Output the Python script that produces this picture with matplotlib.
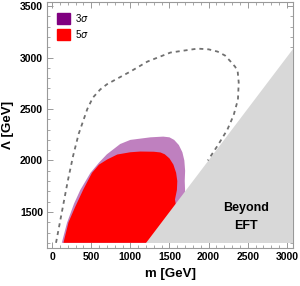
import matplotlib
matplotlib.use('Agg')
import matplotlib.pyplot as plt
from matplotlib.patches import Patch
from matplotlib.ticker import MultipleLocator

plt.rcParams['font.family'] = ['Liberation Sans', 'DejaVu Sans']

# contour of 5 sigma region (m, Lambda) in GeV
m_5sig = [145, 210, 295, 400, 510, 600, 705, 833, 1000, 1128, 1300, 1385,
          1440, 1500, 1550, 1585, 1600, 1595, 1570, 1600, 1620, 1620]
lam_5sig = [1200, 1400, 1549, 1720, 1880, 1960, 2010, 2058, 2080, 2087, 2085, 2078,
            2060, 2020, 1960, 1880, 1800, 1713, 1620, 1500, 1350, 1200]

# contour of 3 sigma region
m_3sig = [124, 190, 280, 360, 490, 600, 700, 870, 1000, 1256, 1420, 1500,
          1560, 1620, 1665, 1690, 1700, 1695, 1700, 1700]
lam_3sig = [1200, 1393, 1580, 1713, 1880, 1980, 2060, 2160, 2200, 2225, 2232, 2225,
            2200, 2150, 2080, 2000, 1900, 1800, 1700, 1200]

# dashed contour
m_dash = [50, 125, 200, 270, 340, 450, 520, 615, 700, 810, 1000, 1218, 1513,
          1859, 2000, 2115, 2210, 2282, 2340, 2372, 2385, 2375, 2320, 2240, 2120, 1990]
lam_dash = [1200, 1500, 1800, 2050, 2260, 2500, 2610, 2690, 2740, 2786, 2864, 2961, 3049,
            3087, 3080, 3058, 3020, 2961, 2910, 2864, 2757, 2592, 2440, 2300, 2150, 2000]

# EFT validity boundary: Lambda = m
m_eft = [1200, 3080, 3080]
lam_eft = [1200, 1200, 3080]

fig = plt.figure(figsize=(3.0, 2.86), dpi=100)
ax = fig.add_axes([0.157, 0.133, 0.82, 0.86])

ax.fill(m_3sig, lam_3sig, color='#bf80bf', lw=0, zorder=1)
ax.fill(m_5sig, lam_5sig, color='#ff0000', lw=0, zorder=2)
ax.fill(m_eft, lam_eft, color='#d8d8d8', lw=0, zorder=3)
ax.plot(m_dash, lam_dash, color='#707070', lw=1.3, ls=(0, (2.2, 2.2)), zorder=4)

ax.text(2475, 1450, 'Beyond\nEFT', ha='center', va='center', fontsize=9,
        fontweight='bold', linespacing=1.6, zorder=5)

ax.set_xlim(-64, 3080)
ax.set_ylim(1150, 3540)
ax.xaxis.set_major_locator(MultipleLocator(500))
ax.xaxis.set_minor_locator(MultipleLocator(100))
ax.yaxis.set_major_locator(MultipleLocator(500))
ax.yaxis.set_minor_locator(MultipleLocator(100))
ax.tick_params(which='both', direction='in', top=True, right=True, color='#999999',
               labelsize=7.5, pad=3)
ax.tick_params(which='major', length=4, width=0.7)
ax.tick_params(which='minor', length=2, width=0.6)
for lbl in ax.get_xticklabels() + ax.get_yticklabels():
    lbl.set_fontweight('bold')
for sp in ax.spines.values():
    sp.set_color('#999999')
    sp.set_linewidth(0.8)

ax.set_xlabel('m [GeV]', fontsize=9.5, fontweight='bold', labelpad=4)
ax.set_ylabel('Λ [GeV]', fontsize=9.5, fontweight='bold', labelpad=4)

handles = [Patch(color='#800080', label='3$\\sigma$'),
           Patch(color='#ff0000', label='5$\\sigma$')]
ax.legend(handles=handles, loc='upper left', frameon=False, fontsize=7,
          handlelength=1.4, handleheight=1.4, handletextpad=0.5,
          labelspacing=0.4, borderaxespad=0.6)

fig.savefig('out.png', dpi=100)
